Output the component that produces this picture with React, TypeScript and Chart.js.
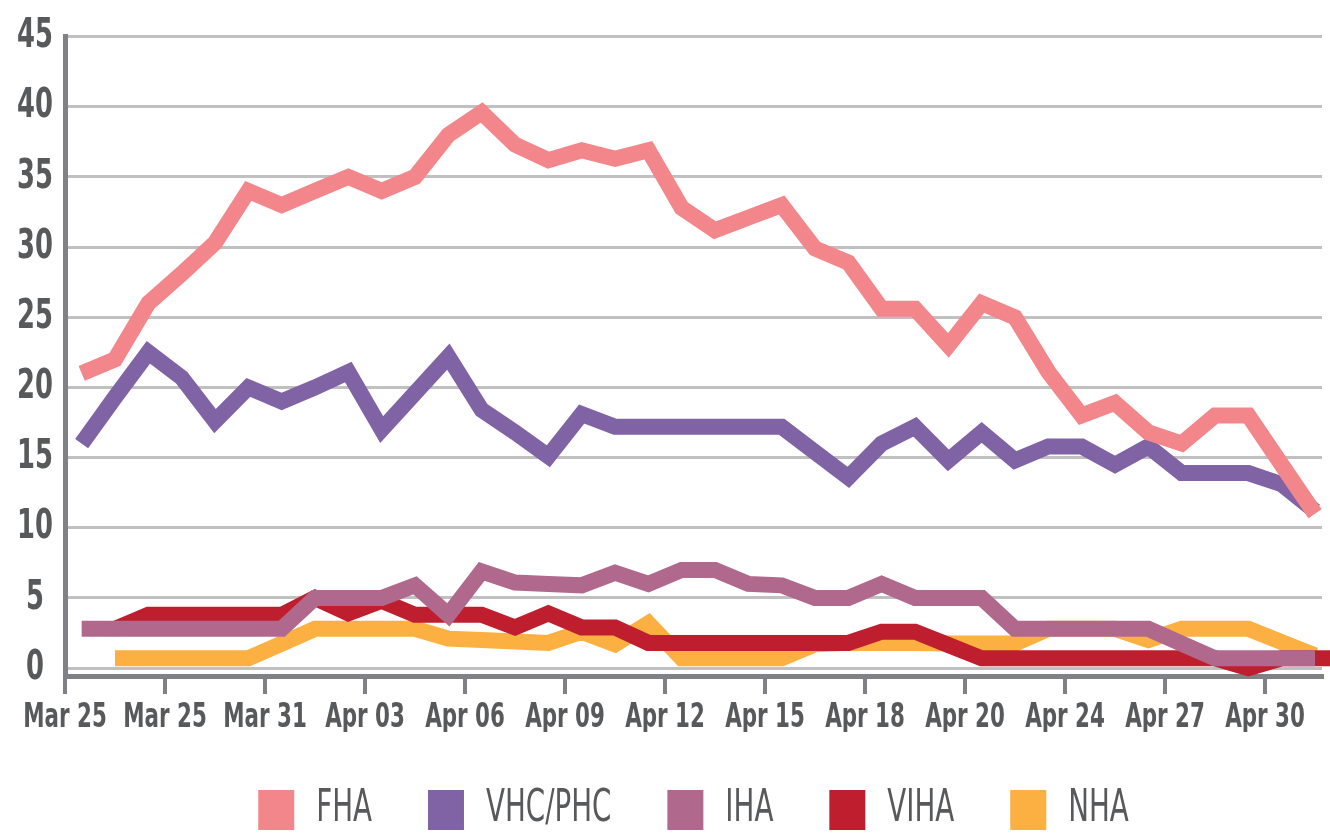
import React, { useEffect, useRef } from 'react';
import { Chart, registerables } from 'chart.js';

Chart.register(...registerables);

// Tick labels (one every 3 data points)
const TICK_LABELS = ['Mar 25', 'Mar 25', 'Mar 31', 'Apr 03', 'Apr 06', 'Apr 09', 'Apr 12', 'Apr 15', 'Apr 18', 'Apr 20', 'Apr 24', 'Apr 27', 'Apr 30'];
const Y_TICKS = [0, 5, 10, 15, 20, 25, 30, 35, 40, 45];

const SERIES_NAMES = ['FHA', 'VHC/PHC', 'IHA', 'VIHA', 'NHA'];
const SERIES_COLORS = ['#f3868a', '#7f63a5', '#b0698c', '#bf1e2e', '#fbb041'];

const FHA = [21.0, 22.0, 26.0, 28.1, 30.3, 34.0, 33.0, 34.0, 35.0, 34.0, 35.0, 38.0, 39.6, 37.3, 36.2, 36.9, 36.3, 36.9, 32.8, 31.2, 32.1, 33.0, 29.9, 28.9, 25.6, 25.6, 23.0, 26.0, 25.0, 21.1, 18.0, 18.9, 16.8, 16.0, 18.0, 18.0, 14.5, 11.0];
const VHC_PHC = [16.0, 19.3, 22.5, 20.7, 17.6, 20.0, 19.0, 20.0, 21.1, 17.0, 19.6, 22.2, 18.4, 16.8, 15.1, 18.1, 17.2, 17.2, 17.2, 17.2, 17.2, 17.2, 15.4, 13.6, 16.0, 17.2, 14.8, 16.8, 14.8, 15.8, 15.8, 14.5, 15.8, 13.9, 13.9, 13.9, 13.1, 11.2];
const IHA = [2.8, 2.8, 2.8, 2.8, 2.8, 2.8, 2.8, 5.0, 5.0, 5.0, 5.9, 3.8, 6.9, 6.1, 6.0, 5.9, 6.8, 6.0, 7.0, 7.0, 6.0, 5.9, 5.0, 5.0, 6.0, 5.0, 5.0, 5.0, 2.8, 2.8, 2.8, 2.8, 2.8, 1.75, 0.7, 0.7, 0.7, 0.7];
const VIHA = [null, 2.8, 3.8, 3.8, 3.8, 3.8, 3.8, 5.0, 3.9, 4.8, 3.8, 3.8, 3.8, 2.9, 3.9, 2.9, 2.9, 1.8, 1.8, 1.8, 1.8, 1.8, 1.8, 1.8, 2.6, 2.6, 1.65, 0.7, 0.7, 0.7, 0.7, 0.7, 0.7, 0.7, 0.7, 0.0, 0.7, 0.7, 0.7];
const NHA = [null, 0.7, 0.7, 0.7, 0.7, 0.7, 1.75, 2.8, 2.8, 2.8, 2.8, 2.1, 2.0, 1.9, 1.8, 2.6, 1.7, 3.2, 0.7, 0.7, 0.7, 0.7, 1.7, 1.8, 1.8, 1.8, 1.75, 1.75, 1.75, 2.8, 2.8, 2.8, 2.0, 2.8, 2.8, 2.8, 1.85, 0.9];

const SERIES = [FHA, VHC_PHC, IHA, VIHA, NHA];

const FONT_FAMILY = "'DejaVu Sans Condensed', 'DejaVu Sans', sans-serif";
const TEXT_SQUEEZE = 0.7; // horizontal condensing of all canvas text
const TEXT_COLOR = '#58595b';
const AXIS_COLOR = '#808184';
const GRID_COLOR = '#c0c0c0';

function toPoints(values: (number | null)[]) {
  const pts: { x: number; y: number }[] = [];
  values.forEach((v, i) => {
    if (v !== null) pts.push({ x: i, y: v });
  });
  return pts;
}

function condenseText(ctx: any) {
  const origFill = ctx.fillText;
  const origMeasure = ctx.measureText;
  ctx.fillText = function (text: string, x: number, y: number) {
    this.save();
    this.translate(x, y);
    this.scale(TEXT_SQUEEZE, 1);
    origFill.call(this, text, 0, 0);
    this.restore();
  };
  ctx.measureText = function (text: string) {
    const m = origMeasure.call(this, text);
    return {
      width: m.width * TEXT_SQUEEZE,
      actualBoundingBoxAscent: m.actualBoundingBoxAscent,
      actualBoundingBoxDescent: m.actualBoundingBoxDescent,
      actualBoundingBoxLeft: m.actualBoundingBoxLeft * TEXT_SQUEEZE,
      actualBoundingBoxRight: m.actualBoundingBoxRight * TEXT_SQUEEZE,
      fontBoundingBoxAscent: m.fontBoundingBoxAscent,
      fontBoundingBoxDescent: m.fontBoundingBoxDescent,
    };
  };
  return () => {
    delete ctx.fillText;
    delete ctx.measureText;
  };
}

export default function App() {
  const canvasRef = useRef<HTMLCanvasElement | null>(null);

  useEffect(() => {
    document.body.style.margin = '0';
    document.body.style.overflow = 'hidden';
    const canvas = canvasRef.current;
    if (!canvas) return;
    const ctx = canvas.getContext('2d');
    if (!ctx) return;
    const undo = condenseText(ctx);

    const chart = new Chart(ctx, {
      type: 'line',
      data: {
        datasets: SERIES.map((vals, i) => ({
          label: SERIES_NAMES[i],
          data: toPoints(vals),
          borderColor: SERIES_COLORS[i],
          backgroundColor: SERIES_COLORS[i],
          borderWidth: 16,
          pointRadius: 0,
          pointHoverRadius: 0,
          tension: 0,
          fill: false,
          borderJoinStyle: 'miter',
          borderCapStyle: 'butt',
          clip: false,
        })),
      },
      options: {
        animation: false,
        responsive: false,
        events: [],
        layout: { padding: { top: 28, right: 8, bottom: -7, left: 0 } },
        plugins: {
          tooltip: { enabled: false },
          legend: {
            position: 'bottom',
            fullSize: false,
            labels: {
              boxWidth: 36,
              boxHeight: 40,
              padding: 56,
              color: TEXT_COLOR,
              font: { family: FONT_FAMILY, size: 44, weight: 'normal' },
              generateLabels: (c: any) =>
                c.data.datasets.map((ds: any, i: number) => ({
                  text: ds.label,
                  fillStyle: SERIES_COLORS[i],
                  strokeStyle: SERIES_COLORS[i],
                  lineWidth: 0,
                  hidden: false,
                  datasetIndex: i,
                  fontColor: TEXT_COLOR,
                })),
            },
          },
        },
        scales: {
          x: {
            type: 'linear',
            min: -0.5,
            max: 37.21,
            afterBuildTicks: (s: any) => {
              s.ticks = TICK_LABELS.map((_, j) => ({ value: -0.5 + 3 * j }));
            },
            afterFit: (s: any) => {
              s.height = 56;
            },
            grid: {
              drawOnChartArea: false,
              drawTicks: true,
              tickLength: 18,
              color: AXIS_COLOR,
              lineWidth: 4,
            },
            border: { color: AXIS_COLOR, width: 5 },
            ticks: {
              autoSkip: false,
              maxRotation: 0,
              minRotation: 0,
              padding: 4,
              color: TEXT_COLOR,
              font: { family: FONT_FAMILY, size: 34, weight: 'bold' },
              callback: (_v: any, i: number) => TICK_LABELS[i],
            },
          },
          y: {
            type: 'linear',
            min: -0.56,
            max: 45,
            afterBuildTicks: (s: any) => {
              s.ticks = Y_TICKS.map((v) => ({ value: v }));
            },
            afterFit: (s: any) => {
              s.width = 65;
            },
            grid: { color: GRID_COLOR, lineWidth: 3, drawTicks: false },
            border: { color: AXIS_COLOR, width: 5 },
            ticks: {
              padding: 12,
              crossAlign: 'center',
              color: TEXT_COLOR,
              font: { family: FONT_FAMILY, size: 41, weight: 'bold' },
            },
          },
        },
      } as any,
    });

    return () => {
      chart.destroy();
      undo();
    };
  }, []);

  return (
    <div style={{ width: 1330, height: 835, overflow: 'hidden' }}>
      <canvas ref={canvasRef} width={1330} height={835} style={{ display: 'block' }} />
    </div>
  );
}
